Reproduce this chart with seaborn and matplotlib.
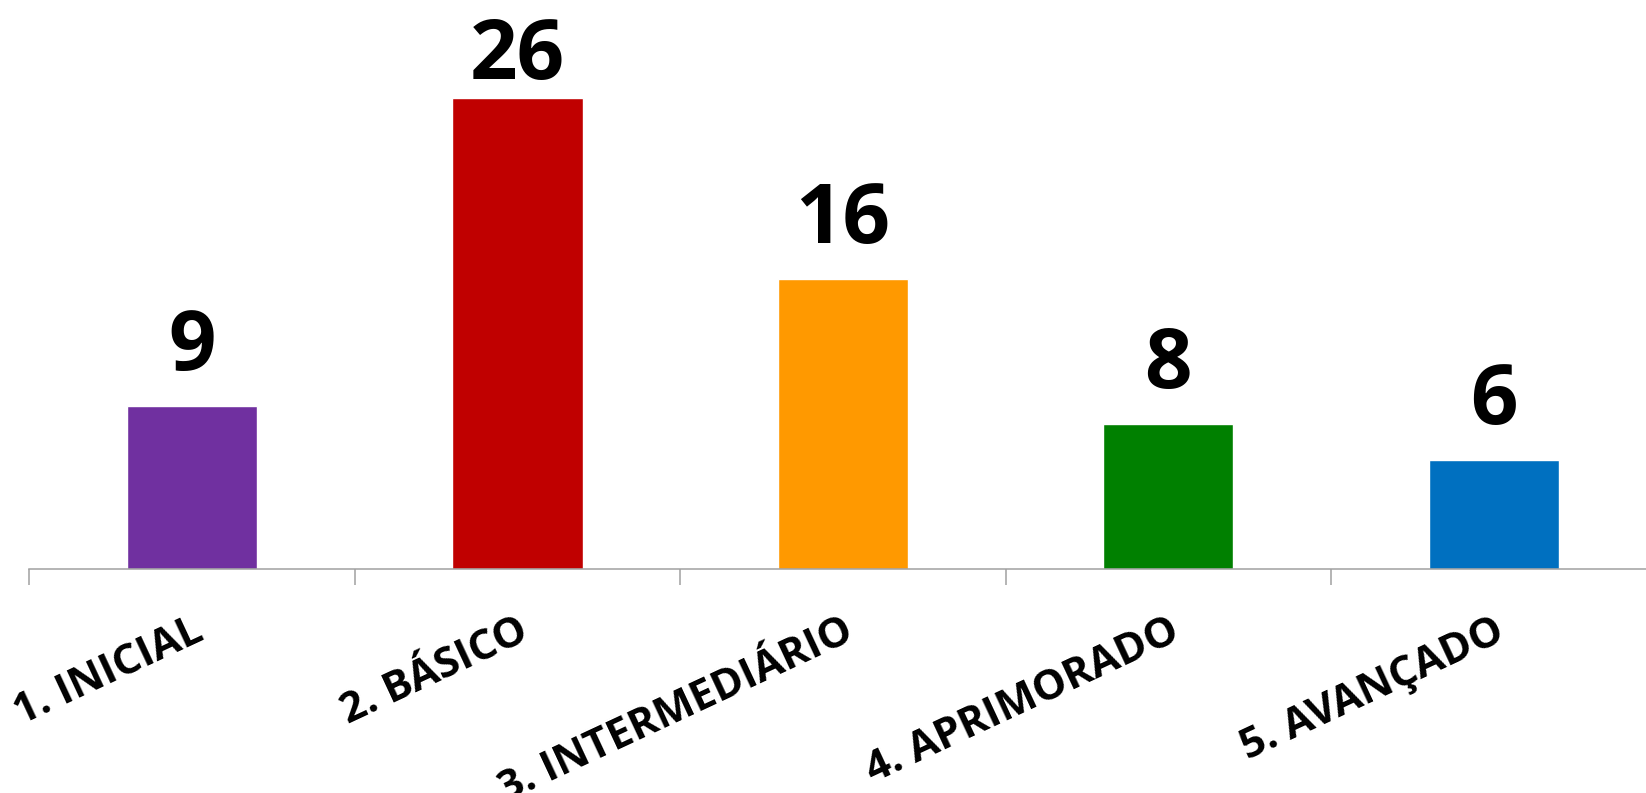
"""
Bar chart: distribution by proficiency level
"""

import matplotlib
matplotlib.use('Agg')
import matplotlib.pyplot as plt
import seaborn as sns
import numpy as np

# data
categories = ['1. INICIAL', '2. BÁSICO', '3. INTERMEDIÁRIO', '4. APRIMORADO', '5. AVANÇADO']
values = [9, 26, 16, 8, 6]
bar_colors = ['#7030A0', '#C00000', '#FF9900', '#008000', '#0070C0']

sns.set_theme(style='white')
plt.rcParams['font.family'] = ['Open Sans', 'DejaVu Sans']

fig = plt.figure(figsize=(16.46, 7.93), dpi=100)
# axis line sits at y=569 px, categories span 29..1656 px
ax = fig.add_axes([29.4 / 1646, (793 - 569) / 793, 1627 / 1646, 569 / 793])

sns.barplot(x=categories, y=values, hue=categories, palette=bar_colors,
            legend=False, width=0.4, saturation=1, ax=ax)

ax.set_xlim(-0.5, len(categories) - 0.5)
ax.set_ylim(0, 31.38)

# value labels above bars
for i, v in enumerate(values):
    off = 13.5 if v == max(values) else 26
    ax.annotate(str(v), (i, v), xytext=(0, off), textcoords='offset points',
                ha='center', va='baseline', fontsize=60, fontweight='bold',
                color='black')

# axis styling
for s in ['top', 'right', 'left']:
    ax.spines[s].set_visible(False)
ax.spines['bottom'].set_color('#A0A0A0')
ax.spines['bottom'].set_linewidth(1.1)
ax.set_yticks([])
ax.set_ylabel('')
ax.set_xlabel('')

ax.set_xticks(np.arange(len(categories)))
ax.set_xticklabels(categories, rotation=25, ha='right', rotation_mode='anchor',
                   fontsize=30.5, fontweight='bold', color='black')
ax.set_xticks(np.arange(-0.5, len(categories)), minor=True)
ax.tick_params(axis='x', which='major', length=0, pad=30)
ax.tick_params(axis='x', which='minor', length=11.5, width=1.1, color='#A0A0A0',
               bottom=True)

fig.savefig('out.png', dpi=100, facecolor='white')
plt.close(fig)
